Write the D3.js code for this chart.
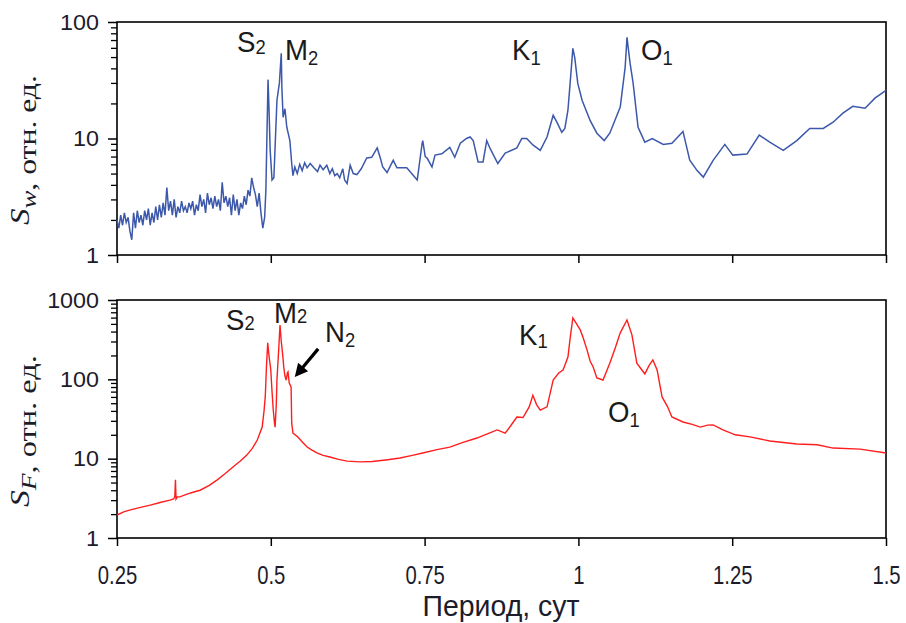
<!DOCTYPE html>
<html><head><meta charset="utf-8">
<script src="https://cdn.jsdelivr.net/npm/d3@7"></script>
<style>body{margin:0;background:#fff}svg{display:block}</style>
</head><body>
<script>
// ---------- DATA ----------
const periodsW = [0.250,0.253,0.256,0.259,0.262,0.265,0.268,0.271,0.274,0.277,0.280,0.283,0.286,0.289,0.292,0.295,0.298,0.301,0.304,0.307,0.310,0.313,0.316,0.319,0.322,0.325,0.328,0.331,0.334,0.337,0.340,0.343,0.346,0.349,0.352,0.355,0.358,0.361,0.364,0.367,0.370,0.373,0.376,0.379,0.382,0.385,0.388,0.391,0.394,0.397,0.400,0.403,0.406,0.409,0.412,0.415,0.418,0.421,0.424,0.427,0.430,0.433,0.436,0.439,0.442,0.445,0.448,0.451,0.454,0.457,0.460,0.463,0.466,0.469,0.472,0.475,0.478,0.481,0.484,0.487,0.490,0.492,0.494,0.4955,0.497,0.499,0.502,0.505,0.510,0.514,0.517,0.518,0.520,0.523,0.526,0.531,0.534,0.536,0.539,0.543,0.547,0.551,0.555,0.559,0.564,0.570,0.576,0.580,0.585,0.591,0.596,0.600,0.604,0.608,0.612,0.617,0.620,0.624,0.629,0.634,0.640,0.647,0.656,0.664,0.673,0.678,0.682,0.689,0.695,0.699,0.705,0.710,0.721,0.738,0.746,0.747,0.751,0.754,0.762,0.767,0.778,0.791,0.799,0.808,0.818,0.824,0.829,0.837,0.845,0.851,0.856,0.869,0.881,0.900,0.908,0.916,0.926,0.938,0.949,0.959,0.965,0.973,0.978,0.983,0.986,0.991,0.994,0.999,1.006,1.019,1.030,1.042,1.051,1.068,1.076,1.079,1.081,1.084,1.089,1.097,1.108,1.120,1.138,1.152,1.170,1.181,1.193,1.203,1.219,1.238,1.251,1.274,1.294,1.311,1.333,1.355,1.376,1.398,1.414,1.430,1.446,1.466,1.482,1.500];
const valuesW = [2.0,1.7,2.2,1.8,2.3,1.9,2.1,1.6,1.35,2.3,1.7,2.4,1.9,2.2,1.8,2.4,2.0,2.5,1.8,2.3,1.9,2.6,2.0,2.7,2.1,2.8,2.2,3.8,2.4,2.9,2.2,3.0,2.1,2.6,2.3,2.9,2.4,2.6,2.3,2.8,2.5,2.9,2.2,2.7,2.4,3.3,2.6,3.0,2.3,3.4,2.7,3.1,2.5,3.2,2.6,3.0,2.4,4.2,2.8,3.2,2.6,3.1,2.2,3.3,2.4,3.0,2.2,2.8,2.5,3.2,2.7,3.6,3.2,4.6,3.8,3.3,2.6,3.4,2.3,1.7,2.1,3.6,12.5,32,18.6,7.9,4.4,4.6,21.3,30,54,27.5,15.2,18,12.5,9.6,6.1,4.8,5.7,5.0,6.0,5.3,6.2,5.6,6.1,5.6,5.2,5.9,5.4,5.9,5.0,5.5,4.8,5.0,4.6,5.5,4.4,4.1,5.9,5.0,4.9,5.5,6.8,6.9,8.3,6.8,5.7,5.1,5.9,6.5,5.6,5.6,5.6,4.4,9.1,9.6,7.0,6.8,5.7,7.2,7.4,8.4,6.9,9.1,10.0,10.3,9.6,6.3,6.3,9.6,8.3,6.1,7.5,8.3,10.0,10.0,8.8,7.9,10.3,15.8,13.8,11.3,12.2,17.5,27.5,59.4,49.6,29.7,21.3,14.3,11.1,9.6,11.1,18.6,40.8,73.8,60,44.3,29.7,12.5,9.3,10.0,8.9,9.1,11.5,6.5,5.3,4.66,6.5,8.9,7.2,7.35,10.7,9.3,7.9,9.6,12.2,12.2,13.8,16.5,18.9,18.2,22.2,25.9];

const periodsF = [0.250,0.262,0.275,0.290,0.304,0.320,0.336,0.342,0.344,0.345,0.346,0.348,0.352,0.365,0.375,0.385,0.400,0.413,0.425,0.439,0.450,0.461,0.470,0.478,0.486,0.489,0.491,0.493,0.495,0.497,0.500,0.502,0.504,0.506,0.507,0.509,0.510,0.513,0.515,0.517,0.518,0.520,0.521,0.523,0.525,0.527,0.528,0.530,0.533,0.534,0.536,0.544,0.552,0.559,0.567,0.575,0.585,0.596,0.610,0.624,0.645,0.665,0.690,0.710,0.730,0.747,0.770,0.791,0.810,0.835,0.855,0.868,0.881,0.890,0.900,0.910,0.920,0.926,0.932,0.938,0.949,0.959,0.968,0.975,0.983,0.987,0.991,0.997,1.003,1.008,1.014,1.019,1.024,1.030,1.040,1.051,1.060,1.068,1.079,1.087,1.095,1.102,1.108,1.115,1.121,1.128,1.136,1.145,1.152,1.170,1.185,1.198,1.210,1.219,1.235,1.255,1.279,1.311,1.355,1.388,1.414,1.458,1.500];
const valuesF = [1.95,2.15,2.3,2.45,2.6,2.8,3.0,3.1,3.3,5.4,3.1,3.3,3.3,3.6,3.8,4.0,4.6,5.4,6.4,7.9,9.3,11.1,13.5,17.2,25,40,60,150,288,200,131,70,41,28,25,50,98,250,485,300,257,180,143,110,98,120,124,90,80,28,21,18.8,16,14,12.8,11.8,11.0,10.5,9.8,9.3,9.1,9.2,9.7,10.2,11.0,11.8,13.0,14,15.8,18.2,21,23,21,26,33.5,33,45,63,48,41,45,98,120,131,191,350,594,500,420,330,235,170,143,104,98,160,250,385,560,364,160,135,117,150,176,131,60,45,33.5,29,27,25,26.5,26.6,23,20,18.8,16.7,15.3,15.0,13.6,13.2,11.8];

const xTicks = [0.25,0.5,0.75,1,1.25,1.5];
const xTickLabels = ["0.25","0.5","0.75","1","1.25","1.5"];
const yTicksW = [1,10,100];
const yTicksF = [1,10,100,1000];
const xTitle = "Период, сут";
const peaksW = [["S","2"],["M","2"],["K","1"],["O","1"]];
const peaksF = [["S","2"],["M","2"],["N","2"],["K","1"],["O","1"]];

// ---------- LAYOUT ----------
const W = 906, H = 623;
const L = 117, R = 886;
const topP = {t:22, b:255}, botP = {t:300, b:538};
const svg = d3.select("body").append("svg").attr("width",W).attr("height",H);
const x = d3.scaleLinear().domain([0.25,1.5]).range([L,R]);
const yW = d3.scaleLog().domain([1,100]).range([topP.b, topP.t]);
const yF = d3.scaleLog().domain([1,1000]).range([botP.b, botP.t]);
const SANS = "'Liberation Sans', Arial, sans-serif";
const SERIF = "'Liberation Serif', 'Times New Roman', serif";

function minorsFor(dom){
  const out=[];
  for(let d=dom[0]; d<dom[1]; d*=10) for(let k=2;k<=9;k++) out.push(d*k);
  return out;
}

function panel(y, P, majors, showLabels){
  const gm = svg.append("g").attr("transform",`translate(${L},0)`)
    .call(d3.axisLeft(y).tickValues(minorsFor(y.domain())).tickSize(6).tickFormat(""));
  gm.select(".domain").remove();
  gm.selectAll("line").attr("stroke","#000").attr("stroke-width",1.3);
  const gl = svg.append("g").attr("transform",`translate(${L},0)`)
    .call(d3.axisLeft(y).tickValues(majors).tickSize(9).tickPadding(8).tickFormat(d=>String(d)));
  gl.select(".domain").remove();
  gl.selectAll("line").attr("stroke","#000").attr("stroke-width",1.5);
  gl.selectAll("text").attr("fill","#1c1c2a").style("font-family",SANS).style("font-size","22px")
    .attr("x",0).attr("transform","translate(-18,0) scale(1.06,1)");
  const gx = svg.append("g").attr("transform",`translate(0,${P.b})`)
    .call(d3.axisBottom(x).tickValues(xTicks).tickSize(8)
      .tickFormat((d,i)=> showLabels ? xTickLabels[i] : ""));
  gx.select(".domain").remove();
  gx.selectAll("line").attr("stroke","#000").attr("stroke-width",1.5);
  gx.selectAll("text").attr("fill","#1c1c2a").style("font-family",SANS).style("font-size","26px")
    .attr("y",28).attr("dy","0.71em").attr("transform","scale(0.78,1)");
  svg.append("rect").attr("x",L).attr("y",P.t).attr("width",R-L).attr("height",P.b-P.t)
    .attr("fill","none").attr("stroke","#000").attr("stroke-width",1.6);
}

panel(yW, topP, yTicksW, false);
panel(yF, botP, yTicksF, true);

// ---------- LINES ----------
const dataW = periodsW.map((p,i)=>[p, valuesW[i]]);
const dataF = periodsF.map((p,i)=>[p, valuesF[i]]);
svg.append("path").datum(dataW)
  .attr("d", d3.line().x(d=>x(d[0])).y(d=>yW(d[1])))
  .attr("fill","none").attr("stroke","#3c58aa").attr("stroke-width",1.5);
svg.append("path").datum(dataF)
  .attr("d", d3.line().x(d=>x(d[0])).y(d=>yF(d[1])))
  .attr("fill","none").attr("stroke","#ff1e1e").attr("stroke-width",1.4);

// ---------- PEAK LABELS ----------
function peakLabel(px, py, main, sub, subDy){
  const g = svg.append("g").attr("transform",`translate(${px},${py}) scale(0.92,1)`);
  const t = g.append("text").attr("fill","#1a1a1a").style("font-family",SANS).style("font-size","30px");
  t.append("tspan").text(main);
  t.append("tspan").attr("dy",subDy).style("font-size","20px").text(sub);
}
const posW = [[237,52,2],[285,60,5],[512,60,5],[641,60,5]];
peaksW.forEach((p,i)=>peakLabel(posW[i][0],posW[i][1],p[0],p[1],posW[i][2]));
const posF = [[226,330,0],[274,323,0],[325,342,5],[519,345,3],[608,422,5]];
peaksF.forEach((p,i)=>peakLabel(posF[i][0],posF[i][1],p[0],p[1],posF[i][2]));

// arrow to N2 (data coordinates)
const aFrom = [x(0.577), yF(242)], aTo = [x(0.539), yF(107)];
{
  const dx = aTo[0]-aFrom[0], dy = aTo[1]-aFrom[1], len = Math.hypot(dx,dy);
  const ux = dx/len, uy = dy/len, hl = 13, hw = 6.5;
  const bx = aTo[0]-ux*hl, by = aTo[1]-uy*hl;
  svg.append("line").attr("x1",aFrom[0]).attr("y1",aFrom[1]).attr("x2",bx+ux*2).attr("y2",by+uy*2)
    .attr("stroke","#000").attr("stroke-width",3.2);
  svg.append("path").attr("d",`M${aTo[0]},${aTo[1]}L${bx-uy*hw},${by+ux*hw}L${bx+uy*hw},${by-ux*hw}Z`).attr("fill","#000");
}

// ---------- AXIS TITLES ----------
const tt = svg.append("g").attr("transform","translate(501,616)");
const ttText = tt.append("text").attr("text-anchor","middle").attr("fill","#1c1c2a")
  .style("font-family",SANS).style("font-size","29px").text(xTitle);
{
  const w = ttText.node().getComputedTextLength();
  ttText.attr("transform",`scale(${157/w},1)`);
}

function yLabel(px, py, sym, sub, targetLen){
  const g = svg.append("g").attr("transform",`translate(${px},${py}) rotate(-90)`);
  const t = g.append("text").attr("fill","#1c1c2a").style("font-family",SERIF).style("font-size","26px");
  t.append("tspan").attr("dy",-7).style("font-style","italic").style("font-size","27px").text(sym);
  t.append("tspan").attr("dy",7).style("font-style","italic").style("font-size","22px").text(sub);
  t.append("tspan").text(", отн. ед.");
  const w = t.node().getComputedTextLength();
  t.attr("transform",`scale(${targetLen/w},1)`);
}
yLabel(36, 225, "S", "w", 150);
yLabel(36, 507, "S", "F", 152);
</script>
</body></html>
